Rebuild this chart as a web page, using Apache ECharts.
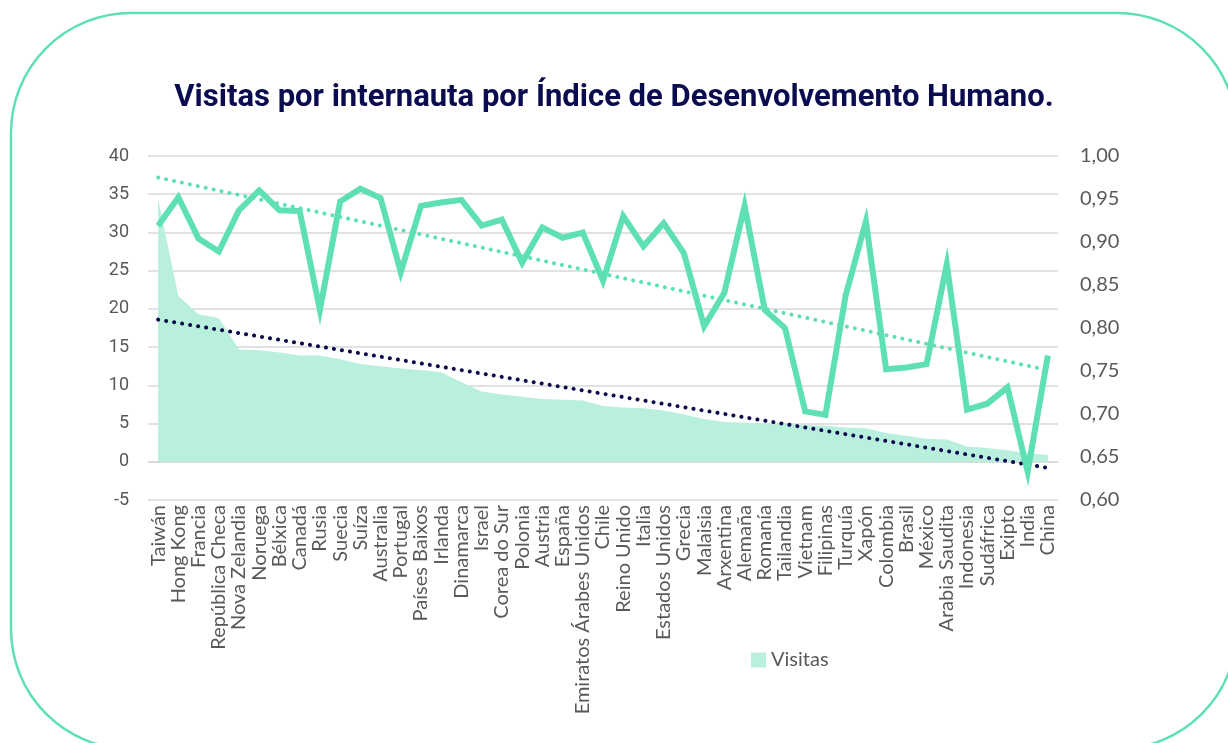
<!DOCTYPE html>
<html>
<head>
<meta charset="utf-8">
<title>Visitas por IDH</title>
<script src="https://cdn.jsdelivr.net/npm/echarts@6/dist/echarts.min.js"></script>
<style>
  html, body { margin: 0; padding: 0; background: #fff; }
  #main { width: 1228px; height: 743px; }
</style>
</head>
<body>
<div id="main"></div>
<script>
// paises, ordenados por visitas
let paises = ['Taiwán', 'Hong Kong', 'Francia', 'República Checa', 'Nova Zelandia', 'Noruega', 'Bélxica', 'Canadá',
  'Rusia', 'Suecia', 'Suíza', 'Australia', 'Portugal', 'Países Baixos', 'Irlanda', 'Dinamarca', 'Israel',
  'Corea do Sur', 'Polonia', 'Austria', 'España', 'Emiratos Árabes Unidos', 'Chile', 'Reino Unido', 'Italia',
  'Estados Unidos', 'Grecia', 'Malaisia', 'Arxentina', 'Alemaña', 'Romanía', 'Tailandia', 'Vietnam', 'Filipinas',
  'Turquía', 'Xapón', 'Colombia', 'Brasil', 'México', 'Arabia Saudita', 'Indonesia', 'Sudáfrica', 'Exipto',
  'India', 'China'];

// visitas por internauta (eixo esquerdo)
let visitas = [34.4, 21.7, 19.3, 18.8, 14.7, 14.6, 14.3, 13.9, 13.9, 13.4, 12.8, 12.5, 12.2, 12.0, 11.7, 10.4, 9.2,
  8.8, 8.5, 8.2, 8.1, 8.0, 7.3, 7.1, 7.0, 6.7, 6.2, 5.6, 5.2, 5.1, 5.0, 5.0, 4.8, 4.7, 4.5, 4.4, 3.75, 3.4, 3.0,
  2.9, 2.0, 1.8, 1.5, 1.1, 0.9];

// indice de desenvolvemento humano (eixo dereito)
let idh = [0.919, 0.952, 0.904, 0.889, 0.937, 0.960, 0.937, 0.936, 0.821, 0.947, 0.962, 0.951, 0.865, 0.942, 0.946,
  0.949, 0.919, 0.926, 0.876, 0.917, 0.905, 0.911, 0.855, 0.930, 0.895, 0.922, 0.887, 0.802, 0.841, 0.942, 0.821,
  0.800, 0.703, 0.699, 0.838, 0.924, 0.752, 0.754, 0.758, 0.874, 0.705, 0.712, 0.731, 0.633, 0.768];

let tendVisitas = [['Taiwán', 18.6], ['China', -0.8]];
let tendIdh = [['Taiwán', 0.975], ['China', 0.751]];

let ticksEsq = { min: -5, max: 40, interval: 5 };
let ticksDer = { min: 0.6, max: 1.0, interval: 0.05 };

let verde = '#5fe0b4';
let verdeClaro = '#b8f0dd';
let marino = '#0b0b50';
let gris = '#595959';

let myChart = echarts.init(document.getElementById('main'));

let option = {
  animation: false,
  backgroundColor: '#fff',
  title: {
    text: 'Visitas por internauta por Índice de Desenvolvemento Humano.',
    left: 'center',
    top: 78,
    textStyle: { fontFamily: 'Roboto', fontWeight: 'bold', fontSize: 31, color: marino }
  },
  graphic: [{
    type: 'rect',
    shape: { x: 11, y: 13, width: 1226, height: 736, r: 120 },
    style: { fill: 'none', stroke: verde, lineWidth: 2.5 },
    silent: true
  }],
  legend: {
    data: ['Visitas'],
    left: 746,
    top: 645,
    icon: 'rect',
    itemWidth: 15,
    itemHeight: 15,
    itemGap: 6,
    textStyle: { fontFamily: 'Lato', fontSize: 20, color: gris }
  },
  grid: { left: 148, right: 170, top: 156, bottom: 243 },
  xAxis: {
    type: 'category',
    data: paises,
    boundaryGap: true,
    axisLine: { onZero: true, lineStyle: { color: '#d9d9d9', width: 1.5 } },
    axisTick: { show: false },
    axisLabel: {
      interval: 0,
      rotate: 90,
      margin: 5,
      fontFamily: 'Lato',
      fontSize: 20,
      color: gris
    }
  },
  yAxis: [{
    type: 'value',
    min: ticksEsq.min,
    max: ticksEsq.max,
    interval: ticksEsq.interval,
    axisLine: { show: false },
    axisTick: { show: false },
    splitLine: { lineStyle: { color: '#d9d9d9', width: 1.5 } },
    axisLabel: { fontFamily: 'Roboto', fontSize: 18, color: gris, margin: 19 }
  }, {
    type: 'value',
    min: ticksDer.min,
    max: ticksDer.max,
    interval: ticksDer.interval,
    axisLine: { show: false },
    axisTick: { show: false },
    splitLine: { show: false },
    axisLabel: {
      fontFamily: 'Lato',
      fontSize: 20,
      color: gris,
      margin: 22,
      formatter: function (v) { return v.toFixed(2).replace('.', ','); }
    }
  }],
  series: [{
    name: 'Visitas',
    type: 'line',
    data: visitas,
    yAxisIndex: 0,
    symbol: 'none',
    lineStyle: { width: 0 },
    itemStyle: { color: verdeClaro },
    areaStyle: { color: verdeClaro, opacity: 1 },
    z: 1
  }, {
    name: 'Tendencia visitas',
    type: 'line',
    data: tendVisitas,
    yAxisIndex: 0,
    symbol: 'none',
    lineStyle: { color: marino, width: 4, type: [0.1, 8], cap: 'round' },
    z: 3
  }, {
    name: 'IDH',
    type: 'line',
    data: idh,
    yAxisIndex: 1,
    symbol: 'none',
    lineStyle: { color: verde, width: 6, join: 'miter' },
    z: 4
  }, {
    name: 'Tendencia IDH',
    type: 'line',
    data: tendIdh,
    yAxisIndex: 1,
    symbol: 'none',
    lineStyle: { color: verde, width: 4, type: [0.1, 8], cap: 'round' },
    z: 5
  }]
};

myChart.setOption(option, true);
</script>
</body>
</html>
